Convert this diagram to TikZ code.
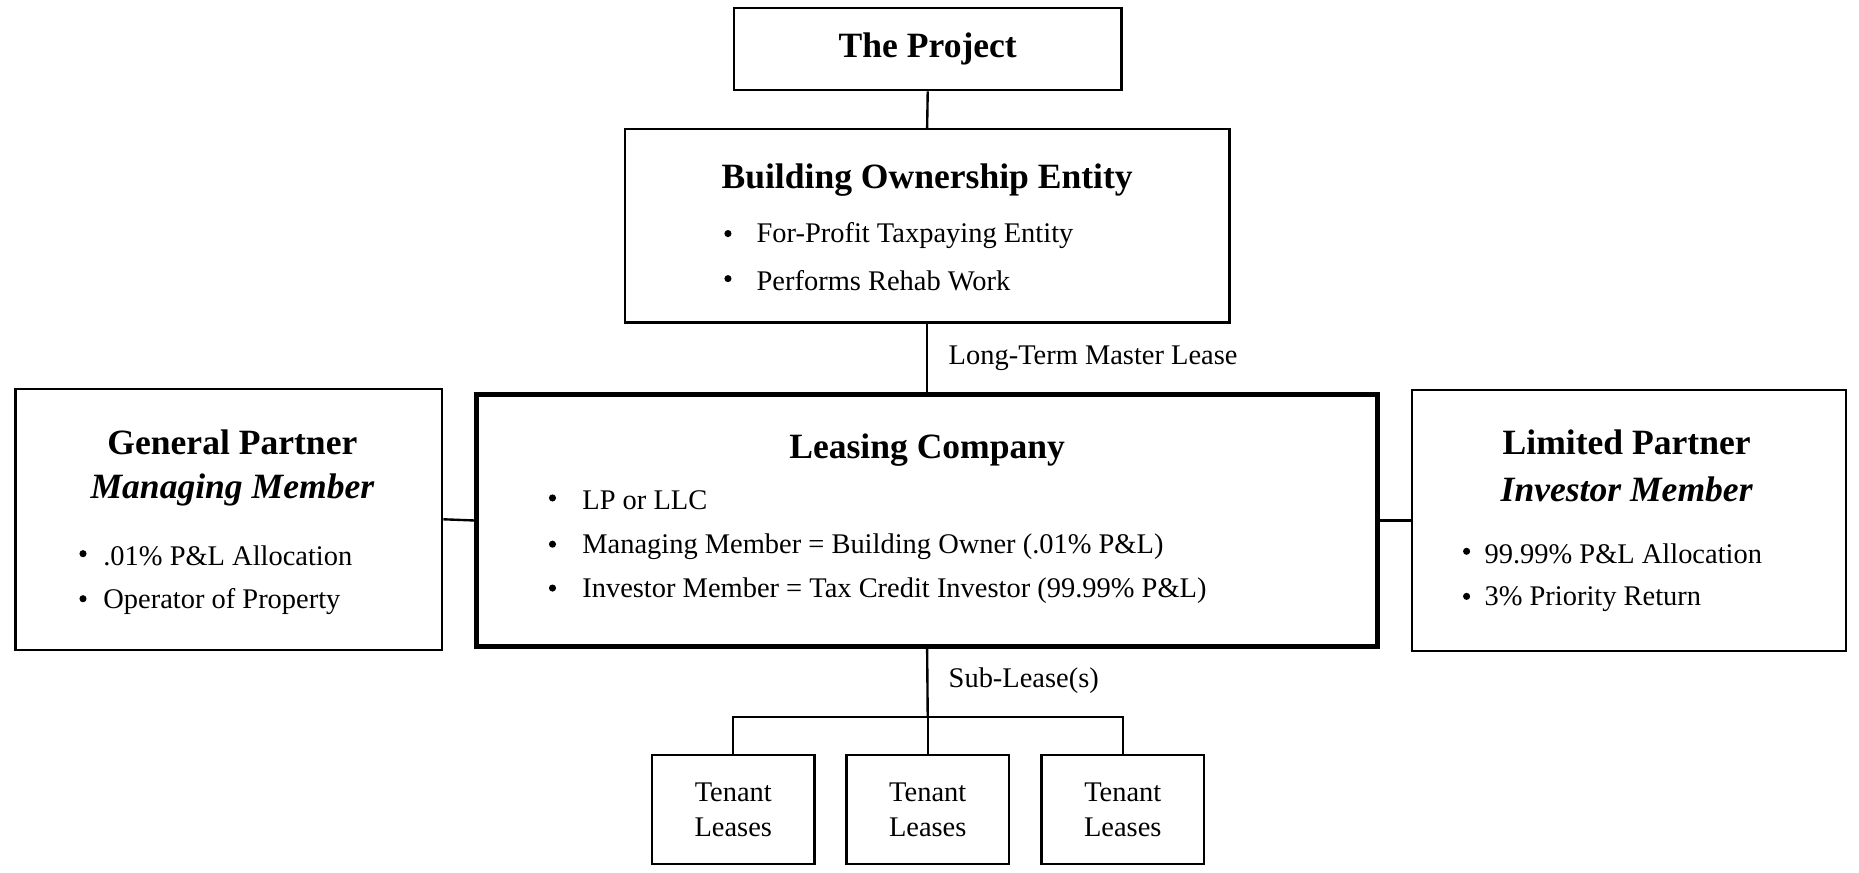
\documentclass[tikz,border=0pt]{standalone}
\usepackage{fontspec}
\setmainfont{Liberation Serif}
\begin{document}
\begin{tikzpicture}[x=1pt,y=-1pt,
  box/.style={draw,line width=2pt,inner sep=0pt},
  thickbox/.style={draw,line width=4pt,inner sep=0pt},
  ttl/.style={font=\fontsize{30}{34}\selectfont\bfseries,inner sep=0pt},
  ittl/.style={font=\fontsize{30}{34}\selectfont\bfseries\itshape,inner sep=0pt},
  txt/.style={font=\fontsize{24}{28}\selectfont,inner sep=0pt,anchor=west},
  ctxt/.style={font=\fontsize{24}{28}\selectfont,inner sep=0pt},
  bul/.style={circle,fill,inner sep=0pt,minimum size=6pt},
  conn/.style={line width=2pt}]
\useasboundingbox (0,0) rectangle (1568,736);
% boxes
\node[box,minimum width=327pt,minimum height=69pt] (proj) at (782.5,41.5) {};
\node[ttl] (projt) at (782.5,41) {The Project};
\node[box,minimum width=510pt,minimum height=163pt] (boe) at (782,190.5) {};
\node[ttl] (boet) at (782,152) {Building Ownership Entity};
\node[bul] (b1) at (614,197) {}; \node[txt] (t1) at (638,199) {For-Profit Taxpaying Entity};
\node[bul] (b2) at (614,235) {}; \node[txt] (t2) at (638,237) {Performs Rehab Work};
\node[thickbox,minimum width=760pt,minimum height=212pt] (lc) at (782,439) {};
\node[ttl] (lct) at (782,380) {Leasing Company};
\node[bul] (b3) at (466,420) {}; \node[txt] (t3) at (491,422) {LP or LLC};
\node[bul] (b4) at (466,459) {}; \node[txt] (t4) at (491,461) {Managing Member = Building Owner (.01\% P\&L)};
\node[bul] (b5) at (466,496) {}; \node[txt] (t5) at (491,498) {Investor Member = Tax Credit Investor (99.99\% P\&L)};
\node[box,minimum width=360pt,minimum height=220pt] (gp) at (193,438) {};
\node[ttl] (gpt) at (196,373) {General Partner};
\node[ittl] (gpi) at (196,413) {Managing Member};
\node[bul] (b6) at (70,467) {}; \node[txt] (t6) at (87,469) {.01\% P\&L Allocation};
\node[bul] (b7) at (70,505) {}; \node[txt] (t7) at (87,507) {Operator of Property};
\node[box,minimum width=366pt,minimum height=220pt] (lp) at (1374,439) {};
\node[ttl] (lpt) at (1372,373) {Limited Partner};
\node[ittl] (lpi) at (1372,413) {Investor Member};
\node[bul] (b8) at (1237,465) {}; \node[txt] (t8) at (1252,467) {99.99\% P\&L Allocation};
\node[bul] (b9) at (1237,503) {}; \node[txt] (t9) at (1252,505) {3\% Priority Return};
% tenants
\foreach \n/\x in {ta/618.5,tb/782.5,tc/947}{
  \node[box,minimum width=137pt,minimum height=92pt] (\n) at (\x,683) {};
  \node[ctxt] (\n1) at (\x,668) {Tenant};
  \node[ctxt] (\n2) at (\x,698) {Leases};
}
% connectors
\draw[conn] (proj.south) -- (boe.north);
\draw[conn] (boe.south) -- (lc.north);
\node[txt] (mlab) at (800,302) {Long-Term Master Lease};
\draw[conn] (gp.east) -- (lc.west);
\draw[conn] (lp.west) -- (lc.east);
\coordinate (j) at (782.5,605);
\draw[conn] (lc.south) -- (j);
\node[txt] (slab) at (800,574) {Sub-Lease(s)};
\draw[conn] (ta.north) |- (j) -| (tc.north);
\draw[conn] (j) -- (tb.north);
\end{tikzpicture}
\end{document}
